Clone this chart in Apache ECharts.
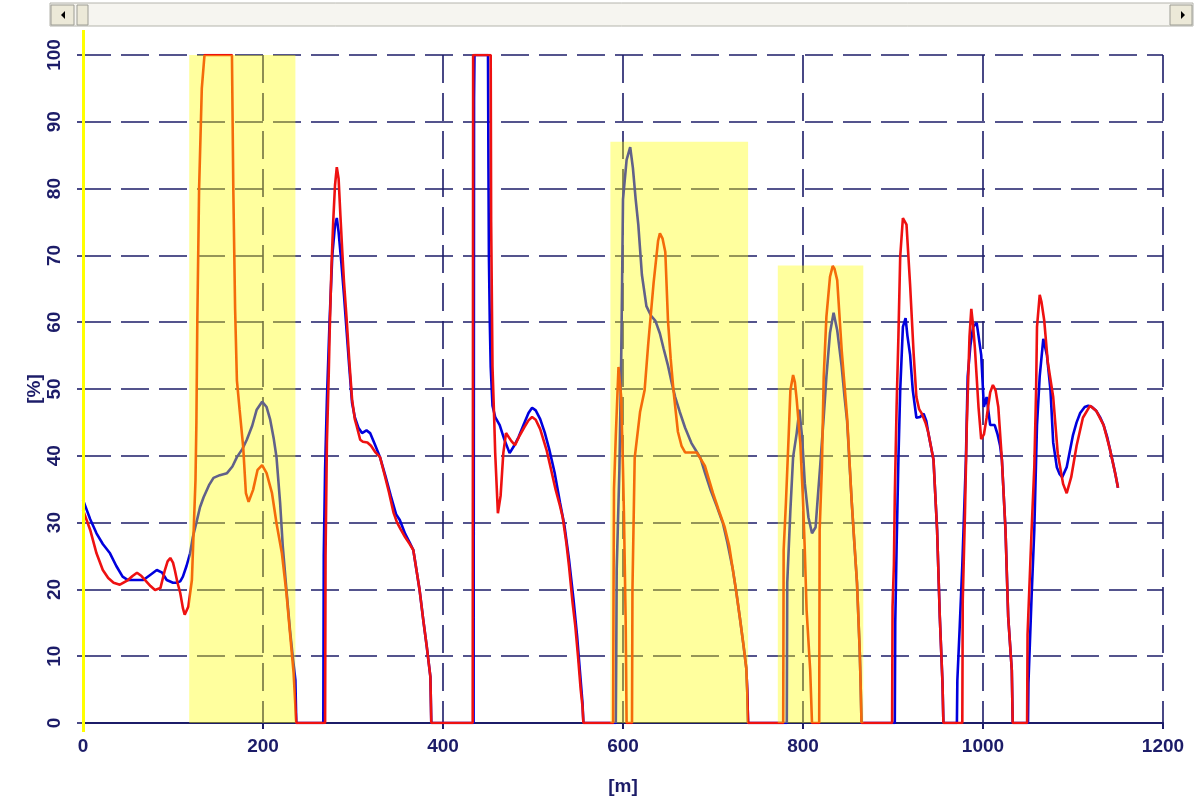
<!DOCTYPE html>
<html>
<head>
<meta charset="utf-8">
<script src="https://cdn.jsdelivr.net/npm/echarts@6/dist/echarts.min.js"></script>
<style>
html,body{margin:0;padding:0;background:#fff;}
#chart{width:1195px;height:804px;}
</style>
</head>
<body>
<div id="chart"></div>
<script>
// ---- data ----
var xTicks = [0, 200, 400, 600, 800, 1000, 1200];
var yTicks = [0, 10, 20, 30, 40, 50, 60, 70, 80, 90, 100];
var xName = '[m]';
var yName = '[%]';
// shaded zones: [from m, to m, top %]
var shadeZones = [[118, 236, 100], [586, 739, 87], [772, 867, 68.5]];

var bluePoints = [
[0,33.4],[8,30.5],[15,28.4],[22,26.8],[30,25.4],[37,23.5],[44,21.9],[50,21.4],[56,21.4],[67,21.4],[75,22.2],[82,22.9],[88,22.5],[93,21.4],[100,21.0],[104,21.0],[108,21.2],[111,21.9],[115,23.5],[119,25.4],[122,27.8],[126,30],[130,32.3],[134,33.8],[140,35.6],[145,36.7],[152,37.1],[160,37.4],[166,38.4],[171,39.8],[177,41.0],[182,42.4],[188,44.5],[193,46.9],[199,48.1],[204,47.3],[208,45.4],[212,42.5],[215,39.8],[219,33],[222,26.4],[226,20],[230,13.9],[233,10],[236,6.4],[237,0],
[267,0],[267.5,25],[269,38],[271,48.4],[274,60.3],[277,70.0],[280,74.5],[282,75.6],[284,73.5],[287,69],[290,64],[293,58.5],[296,53],[299,47.9],[302,45.8],[306,44.2],[310,43.4],[315,43.8],[319,43.4],[324,41.8],[330,39.8],[336,37],[342,34],[348,31.2],[352,30.4],[358,28.3],[363,27],[367,25.9],[371,22.5],[374,19.9],[378,15.5],[382,11.4],[386,6.9],[387,0],
[434,0],[434.5,93.5],[435,100],[450,100],[450.5,83],[451,70],[452,60],[453,53.3],[455,47.5],[458,45.8],[463,44.6],[468,42.5],[474,40.4],[479,41.5],[484,42.8],[490,44.8],[495,46.4],[499,47.2],[503,46.8],[508,45.5],[513,43.5],[518,41],[524,37.5],[530,33],[535,29.5],[540,24.5],[545,18.5],[549,13],[552,8],[555,3],[556,0],
[592,0],[592.5,10],[593,23],[596,38],[598,54.5],[599,65.9],[600,78.4],[604,84.3],[608,86.2],[611,83.1],[614,78.5],[617,74.6],[621,67.1],[626,62.4],[631,61],[636,60.2],[641,58.3],[645,56.1],[650,53.5],[654,51],[658,48.8],[663,46.6],[669,44.2],[676,41.9],[681,40.8],[686,39.7],[691,37.5],[697,35],[704,32.5],[711,29.9],[716,27],[722,23],[726,19.5],[730,15.6],[734,11.5],[737,8.2],[738,5],[739,0],
[782,0],[782.5,21],[786,31.9],[789,39.8],[793,43.4],[796,46.9],[799,42.8],[802,35.9],[806,30.8],[810,28.4],[814,29.3],[816,33],[819,38.3],[823,45.8],[826,51.8],[830,58.4],[834,61.4],[838,58.8],[843,53.3],[846,49],[849,45.2],[854,33.4],[857,27],[860,21],[863,10.9],[864,6],[865,0],
[902,0],[902.5,15],[904,26.3],[906,39.4],[908,49.8],[911,59.3],[914,60.6],[916,58],[919,55.1],[922,49.8],[926,45.7],[930,45.8],[934,46.3],[937,45.2],[939,43.6],[942,41.5],[945,39.4],[949,28.9],[952,15.9],[955,6],[956,0],
[971,0],[971.5,6.4],[974,14],[977,23.6],[981,39.4],[983,51.9],[986,56.5],[989,59.3],[993,59.9],[995,58],[998,55.1],[1001,47.3],[1004,48.8],[1008,44.6],[1013,44.6],[1016,43.3],[1019,41.5],[1021,39.4],[1025,28.9],[1028,15.9],[1032,7.9],[1033,0],
[1050,0],[1050.5,6],[1054,19],[1057,28.9],[1060,44.6],[1063,51.9],[1067,57.5],[1071,55.1],[1075,49.8],[1078,42],[1082,38.3],[1085,37.3],[1088,36.8],[1093,38.3],[1100,43.1],[1104,45],[1108,46.4],[1113,47.3],[1117,47.5],[1121,47.3],[1126,46.7],[1130,45.8],[1134,44.6],[1138,42.8],[1141,41],[1144,39.2],[1147,37.3],[1150,35.2]
];

var redPoints = [
[0,31.9],[2,31.9],[8,28.9],[15,25.4],[22,22.9],[28,21.7],[34,21],[41,20.7],[50,21.4],[55,22],[60,22.5],[65,22],[69,21.4],[75,20.5],[80,19.9],[86,20.2],[91,22.9],[94,24.2],[97,24.7],[100,24],[102,22.9],[105,21],[108,19.5],[111,17.2],[113,16.2],[117,17.4],[121,21.4],[123,28.9],[125,36.4],[126,45],[127,60],[129,80],[132,95],[135,100],[165.5,100],[167,80],[169,62],[171,51.3],[174,46.9],[178,41.3],[181,34.4],[184,33.1],[189,34.9],[194,37.9],[199,38.6],[204,37.4],[210,34.4],[215,29.9],[221,25.4],[226,19.5],[230,13.5],[234,7.5],[237,0],
[269,0],[269.5,25],[271,42],[273,52],[274,58],[276,68],[278,75],[280,80.5],[282,83.2],[284,81.5],[286,76],[288,70.8],[290,66],[293,60.3],[296,54],[299,48.4],[302,45.5],[304,44.5],[308,42.4],[311,42.1],[316,42],[320,41.5],[325,40.5],[330,39.8],[335,37.2],[340,34.5],[345,31.5],[349,30],[353,29],[358,27.8],[363,26.8],[367,25.9],[371,22.5],[374,19.9],[378,15.5],[382,11.4],[386,6.9],[387,0],
[433,0],[433.5,100],[453,100],[453.5,75],[455,53.3],[457,45],[458,40.4],[461,31.4],[464,34],[467,40.4],[470,43.4],[472,43.4],[476,42.2],[480,41.6],[485,43],[490,44.2],[495,45.3],[499,45.8],[503,45.4],[508,44],[515,40.9],[520,38],[525,35],[530,32.5],[533,30.8],[537,27],[540,23.5],[544,18],[547,14.5],[550,10],[553,5],[555,2.5],[556,0],
[589,0],[589.5,20],[590,35],[592,43],[595,53.3],[598,48.8],[600,38],[601,31.6],[603,15],[604,0],
[610,0],[610.5,20],[613,39.7],[619,46.6],[624,49.8],[628,56.7],[634,65.9],[639,72.2],[641,73.3],[644,72.5],[647,70.5],[650,60.2],[653,54.5],[656,49.9],[661,43.6],[665,41.5],[669,40.5],[675,40.5],[682,40.5],[686,39.6],[691,38.5],[700,34.4],[706,32],[713,29.3],[718,26.5],[722,23],[726,19.5],[730,15.6],[734,11.5],[737,8.2],[738,5],[739,0],
[778,0],[778.5,25.9],[781,32.9],[784,42.8],[786,49.8],[789,52.1],[791,51],[793,48.4],[797,41.9],[800,33.4],[802,25.9],[804,16.9],[808,7.9],[810,0],
[818,0],[818.5,28.9],[821,38.3],[823,51.8],[826,60.8],[830,66.8],[833,68.4],[835,68],[838,66.3],[843,55.8],[849,45.8],[854,33.4],[860,21],[863,10.9],[864,6],[865,0],
[899,0],[899.5,17.4],[901,23.7],[902,34.1],[904,47.3],[906,57.8],[908,69.8],[911,75.6],[913,75.8],[915,74.6],[919,65.6],[923,55.1],[926,48.8],[929,47],[932,46.3],[936,45],[939,43.6],[942,41.5],[945,39.4],[949,28.9],[952,15.9],[955,6],[956,0],
[977,0],[977.5,18.4],[980,31.6],[982,44.6],[985,57.8],[987,62],[989,59.5],[991,56.1],[995,47.3],[998,42.5],[1001,43.2],[1004,45.7],[1008,49.5],[1011,50.6],[1014,49.8],[1017,47.3],[1021,39.4],[1025,28.9],[1028,15.9],[1032,7.9],[1033,0],
[1049,0],[1049.5,13.2],[1054,28.9],[1057,38.3],[1059,49.8],[1060,59.3],[1063,64.1],[1065,63],[1068,60.3],[1072,54],[1078,48.8],[1083,40.4],[1089,35.8],[1093,34.4],[1098,36.8],[1104,41.5],[1111,45.7],[1119,47.5],[1126,46.7],[1134,44.6],[1141,41],[1147,37.3],[1150,35.2]
];

// ---- chart ----
var NAVY = '#1c1c68';
var chart = echarts.init(document.getElementById('chart'), null, {renderer: 'canvas'});
var font = {fontFamily: 'Liberation Sans, Arial, sans-serif', fontWeight: 'bold', fontSize: 19, color: NAVY};

chart.setOption({
  animation: false,
  backgroundColor: '#ffffff',
  grid: {left: 83, right: 32, top: 55, bottom: 81, containLabel: false},
  xAxis: {
    type: 'value', min: xTicks[0], max: xTicks[xTicks.length - 1], interval: 200,
    name: xName, nameLocation: 'middle', nameGap: 54, nameMoveOverlap: false,
    nameTextStyle: font,
    axisLine: {show: true, onZero: false, lineStyle: {color: NAVY, width: 2}},
    axisTick: {show: true, length: 6, lineStyle: {color: NAVY, width: 2}},
    axisLabel: Object.assign({margin: 14, formatter: function (v) { return String(v); }}, font),
    splitLine: {show: true, lineStyle: {color: NAVY, width: 1.6, type: [28, 10]}}
  },
  yAxis: {
    type: 'value', min: yTicks[0], max: yTicks[yTicks.length - 1], interval: 10,
    name: yName, nameLocation: 'middle', nameGap: 39, nameRotate: 90, nameMoveOverlap: false,
    nameTextStyle: font,
    axisLine: {show: false},
    axisTick: {show: true, length: 6, lineStyle: {color: NAVY, width: 1.6}},
    axisLabel: Object.assign({margin: 19, rotate: 90, formatter: function (v) { return String(v); }}, font),
    splitLine: {show: true, lineStyle: {color: NAVY, width: 1.6, type: [28, 10]}}
  },
  series: [
    {type: 'line', data: bluePoints, showSymbol: false, smooth: false,
     lineStyle: {color: '#0000dd', width: 2.6}, z: 3},
    {type: 'line', data: redPoints, showSymbol: false, smooth: false,
     lineStyle: {color: '#ee1111', width: 2.6}, z: 4},
    {type: 'custom', data: shadeZones, z: 10, silent: true,
     encode: {x: [0, 1], y: 2},
     renderItem: function (params, api) {
       var p1 = api.coord([api.value(0), api.value(2)]);
       var p2 = api.coord([api.value(1), 0]);
       return {type: 'rect', shape: {x: p1[0], y: p1[1], width: p2[0] - p1[0], height: p2[1] - p1[1]},
               style: {fill: 'rgba(255,255,0,0.38)'}};
     }}
  ],
  graphic: [
    {type: 'rect', shape: {x: 50, y: 3, width: 1143, height: 23}, style: {fill: '#f6f5f0', stroke: '#b4b4ac', lineWidth: 1}},
    {type: 'rect', shape: {x: 51, y: 5, width: 23, height: 20}, style: {fill: '#ece9d8', stroke: '#9c9c94', lineWidth: 1}},
    {type: 'polygon', shape: {points: [[65, 11], [65, 19], [61, 15]]}, style: {fill: '#000'}},
    {type: 'rect', shape: {x: 77, y: 5, width: 11, height: 20}, style: {fill: '#ece9d8', stroke: '#9c9c94', lineWidth: 1}},
    {type: 'rect', shape: {x: 1170, y: 5, width: 22, height: 20}, style: {fill: '#ece9d8', stroke: '#9c9c94', lineWidth: 1}},
    {type: 'polygon', shape: {points: [[1181, 11], [1181, 19], [1185, 15]]}, style: {fill: '#000'}},
    {type: 'line', shape: {x1: 83.5, y1: 30, x2: 83.5, y2: 732}, style: {stroke: '#ffff00', lineWidth: 3}, z: 10}
  ]
});
</script>
</body>
</html>
